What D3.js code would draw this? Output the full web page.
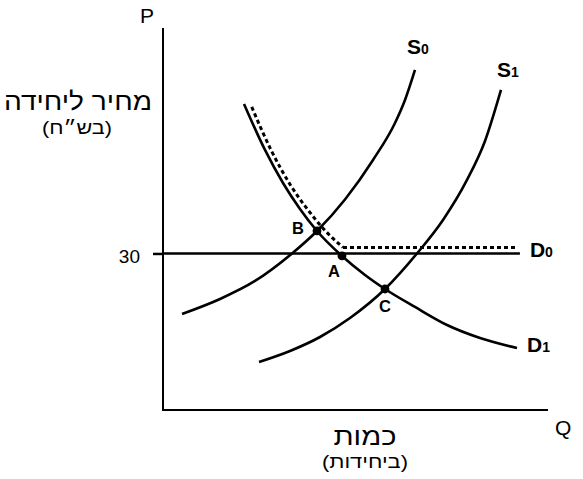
<!DOCTYPE html>
<html>
<head>
<meta charset="utf-8">
<script src="https://cdn.jsdelivr.net/npm/d3@7"></script>
<style>
  html, body { margin: 0; padding: 0; background: #fff; }
  svg { display: block; }
  text { font-family: "Liberation Sans", Arial, sans-serif; fill: #000; }
</style>
</head>
<body>
<svg id="chart" width="583" height="479"></svg>
<script>
// ---- data (quantity Q, price P) ----
const priceTicks = [30];
const d0Price = 30;
const d0Range = [0, 92.7];
const s0Curve = [[4.94,18.40],[14.81,21.28],[23.90,24.73],[33.51,30.00],[40.00,34.31],[47.27,40.35],[54.55,47.92],[60.26,55.01],[62.86,59.42],[65.45,65.17]];
const s1Curve = [[24.94,9.20],[32.99,11.31],[40.78,13.99],[48.57,17.63],[57.66,23.19],[65.97,30.00],[72.73,36.42],[78.96,44.09],[83.64,51.56],[87.79,61.34]];
const d1Curve = [[21.04,58.65],[26.49,49.84],[31.17,43.51],[35.58,38.53],[40.00,34.31],[46.49,29.52],[52.47,25.88],[57.66,23.19],[65.45,19.74],[73.77,16.29],[82.34,13.80],[91.95,11.88]];
const dottedCurve = [[23.04,58.08],[28.05,49.84],[33.09,43.13],[37.66,38.34],[41.97,34.50],[46.75,31.15]];
const dottedFlat = [[46.75,31.15],[92.21,31.15]];
const points = [
  {label: "A", q: 46.49, p: 29.52},
  {label: "B", q: 40.00, p: 34.31},
  {label: "C", q: 57.66, p: 23.19}
];
const curveLabels = [
  {main: "S", sub: "0", q: 65.45, p: 65.17},
  {main: "S", sub: "1", q: 87.79, p: 61.34},
  {main: "D", sub: "0", q: 92.7, p: 30},
  {main: "D", sub: "1", q: 91.95, p: 11.88}
];
const yTitle = ["מחיר ליחידה", "(בש״ח)"];
const xTitle = ["כמות", "(ביחידות)"];

// ---- scales ----
const svg = d3.select("#chart");
const x = d3.scaleLinear().domain([0, 100]).range([163, 548]);
const y = d3.scaleLinear().domain([0, 73.4]).range([410, 27]);

// axes
const axisG = svg.append("g");
axisG.append("line").attr("x1", x(0)).attr("x2", x(0)).attr("y1", y(73.2)).attr("y2", y(0))
  .attr("stroke", "#000").attr("stroke-width", 2);
axisG.append("line").attr("x1", x(0) - 1).attr("x2", x(100)).attr("y1", y(0)).attr("y2", y(0))
  .attr("stroke", "#000").attr("stroke-width", 2);

const yAxis = svg.append("g").attr("transform", `translate(${x(0)},0)`)
  .call(d3.axisLeft(y).tickValues(priceTicks).tickSize(10).tickPadding(13));
yAxis.select(".domain").remove();
yAxis.selectAll(".tick line").attr("stroke", "#000").attr("stroke-width", 2.5);
yAxis.selectAll(".tick text").attr("font-size", 19).attr("font-family", "Liberation Sans, Arial, sans-serif")
  .attr("dy", "0.45em");

const line = d3.line().x(d => x(d[0])).y(d => y(d[1])).curve(d3.curveMonotoneX);
const straight = d3.line().x(d => x(d[0])).y(d => y(d[1]));

// D0 horizontal
svg.append("path").datum([[d0Range[0], d0Price], [d0Range[1], d0Price]])
  .attr("d", straight).attr("fill", "none").attr("stroke", "#000").attr("stroke-width", 2.6);

// dotted
svg.append("path").datum(dottedCurve).attr("d", line).attr("fill", "none")
  .attr("stroke", "#000").attr("stroke-width", 3).attr("stroke-dasharray", "4,3");
svg.append("path").datum(dottedFlat).attr("d", straight).attr("fill", "none")
  .attr("stroke", "#000").attr("stroke-width", 3).attr("stroke-dasharray", "4,3");

// curves
[s0Curve, s1Curve, d1Curve].forEach(c => {
  svg.append("path").datum(c).attr("d", line).attr("fill", "none")
    .attr("stroke", "#000").attr("stroke-width", 2.6);
});

// points
svg.selectAll("circle.pt").data(points).join("circle").attr("class", "pt")
  .attr("cx", d => x(d.q)).attr("cy", d => y(d.p)).attr("r", 4.4).attr("fill", "#000");

const ptOffsets = {A: [-8, 21], B: [-19, 3], C: [0, 23]};
svg.selectAll("text.ptlab").data(points).join("text").attr("class", "ptlab")
  .attr("x", d => x(d.q) + ptOffsets[d.label][0])
  .attr("y", d => y(d.p) + ptOffsets[d.label][1])
  .attr("text-anchor", "middle").attr("font-size", 16.5).attr("font-weight", "bold")
  .text(d => d.label);

// curve labels
const clOffsets = [[-8, -16], [-4, -13], [10, 4], [10, 4]];
curveLabels.forEach((d, i) => {
  const t = svg.append("text")
    .attr("x", x(d.q) + clOffsets[i][0]).attr("y", y(d.p) + clOffsets[i][1])
    .attr("font-weight", "bold").attr("font-size", 21);
  t.append("tspan").text(d.main);
  t.append("tspan").attr("font-size", 14).text(d.sub);
});

// axis letters
svg.append("text").attr("x", 140).attr("y", 23).attr("font-size", 21).text("P");
svg.append("text").attr("x", 555).attr("y", 435).attr("font-size", 21).text("Q");

// titles
function title(t, cx, by, size, len) {
  svg.append("text").attr("x", cx - len / 2).attr("y", by)
    .attr("font-size", size).attr("textLength", len).attr("lengthAdjust", "spacingAndGlyphs")
    .text(t);
}
title(yTitle[0], 78, 110, 25, 148);
title(yTitle[1], 77, 134, 18.5, 70);
title(xTitle[0], 365, 445, 25, 63);
title(xTitle[1], 365, 468, 18.5, 86);
</script>
</body>
</html>
